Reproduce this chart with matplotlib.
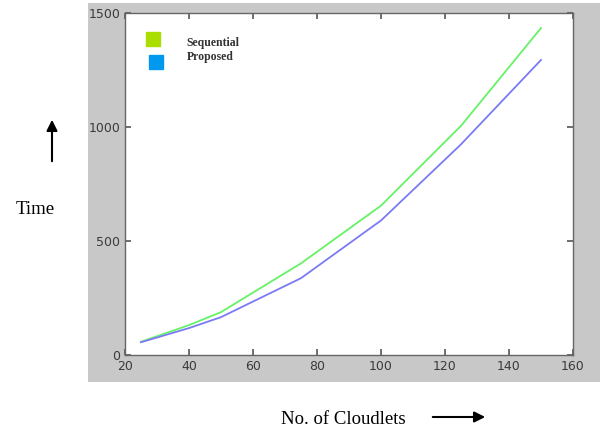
import matplotlib.pyplot as plt

cloudlets = [25, 40, 50, 75, 100, 125, 150]
sequential = [58, 131, 188, 402, 655, 1005, 1434]
proposed = [56, 118, 166, 337, 590, 924, 1294]

W, H = 601, 428
fig = plt.figure(figsize=(W / 100, H / 100), dpi=100)
fig.patch.set_facecolor("white")

# gray panel behind the axes
bg = fig.add_axes([88 / W, 1 - 382 / H, (600 - 88) / W, (382 - 3) / H], zorder=-1)
bg.set_facecolor("#c8c8c8")
bg.set_xticks([])
bg.set_yticks([])
for s in bg.spines.values():
    s.set_visible(False)

ax = fig.add_axes([125 / W, 1 - 355 / H, (573 - 125) / W, (355 - 13) / H])
ax.set_facecolor("white")
ax.plot(cloudlets, sequential, color="#66f266", lw=1.3)
ax.plot(cloudlets, proposed, color="#7a7af5", lw=1.3)
ax.set_xlim(20, 160)
ax.set_ylim(0, 1500)
ax.set_xticks(range(20, 161, 20))
ax.set_yticks([0, 500, 1000, 1500])
ax.tick_params(direction="in", top=True, right=True, length=4, width=1.2,
               labelsize=9, labelcolor="#3a3a3a", color="#555555")
for s in ax.spines.values():
    s.set_color("#666666")
    s.set_linewidth(1)

# legend squares drawn like the original
ax.plot([0.0625], [0.924], "s", color="#aadd00", ms=9.5, transform=ax.transAxes)
ax.plot([0.069], [0.857], "s", color="#0099ee", ms=9.5, transform=ax.transAxes)
ax.text(0.138, 0.912, "Sequential", transform=ax.transAxes, fontsize=8.5,
        family="Liberation Serif", fontweight="bold", color="#333333", va="center")
ax.text(0.138, 0.871, "Proposed", transform=ax.transAxes, fontsize=8.5,
        family="Liberation Serif", fontweight="bold", color="#333333", va="center")

fig.text(35 / W, 1 - 209 / H, "Time", family="Liberation Serif", fontsize=13.5,
         ha="center", va="center")
fig.text(343 / W, 1 - 419 / H, "No. of Cloudlets", family="Liberation Serif",
         fontsize=13.5, ha="center", va="center")

ann = dict(arrowstyle="-|>", color="black", lw=1.5, mutation_scale=16)
fig.add_artist(plt.Annotation("", xy=(52 / W, 1 - 117 / H), xytext=(52 / W, 1 - 164 / H),
                              xycoords="figure fraction", arrowprops=ann))
fig.add_artist(plt.Annotation("", xy=(488 / W, 1 - 417 / H), xytext=(430 / W, 1 - 417 / H),
                              xycoords="figure fraction", arrowprops=ann))

fig.savefig("out.png", dpi=100)
